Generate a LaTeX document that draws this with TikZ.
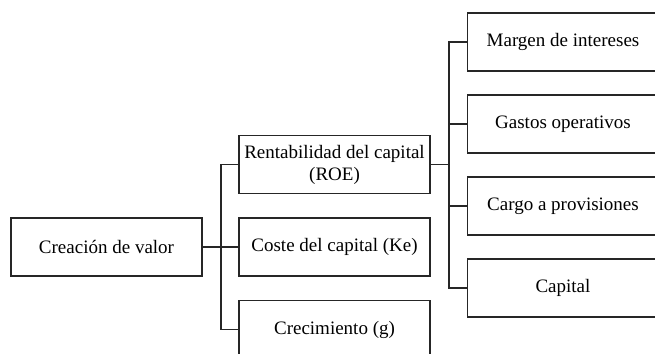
\documentclass[tikz,border=0pt]{standalone}
\usepackage{fontspec}
\setmainfont{Liberation Serif}
\usetikzlibrary{calc}

\begin{document}
\begin{tikzpicture}[x=1pt,y=1pt,
	box/.style={draw=black!85, line width=1.2pt, minimum width=191, minimum height=58, align=center, inner sep=0pt, font=\fontsize{19}{22}\selectfont},
	link/.style={draw=black!85, line width=1.2pt}]

		\useasboundingbox (0,0) rectangle (655,353);

		% root
		\node[box] (valor) at (106.5,106) {Creación de valor};

		% second level
		\node[box] (roe) at (334.5,188.5) {Rentabilidad del capital\\(ROE)};
		\node[box] (coste) at (334.5,106) {Coste del capital (Ke)};
		\node[box] (crec) at (334.5,23.5) {Crecimiento (g)};

		% third level
		\node[box] (margen) at (563,311) {Margen de intereses};
		\node[box] (gastos) at (563,229) {Gastos operativos};
		\node[box] (cargo) at (563,147) {Cargo a provisiones};
		\node[box] (capital) at (563,65) {Capital};

		% buses
		\coordinate (busA) at (221,106);
		\coordinate (busB) at (449,188.5);

		\draw[link] (valor.east) -- (coste.west);
		\draw[link] (roe.west) -| (busA) |- (crec.west);

		\draw[link] (roe.east) -- (busB);
		\draw[link] (margen.west) -| (busB) |- (capital.west);
		\draw[link] (busB |- gastos.west) -- (gastos.west);
		\draw[link] (busB |- cargo.west) -- (cargo.west);

	\end{tikzpicture}
\end{document}
